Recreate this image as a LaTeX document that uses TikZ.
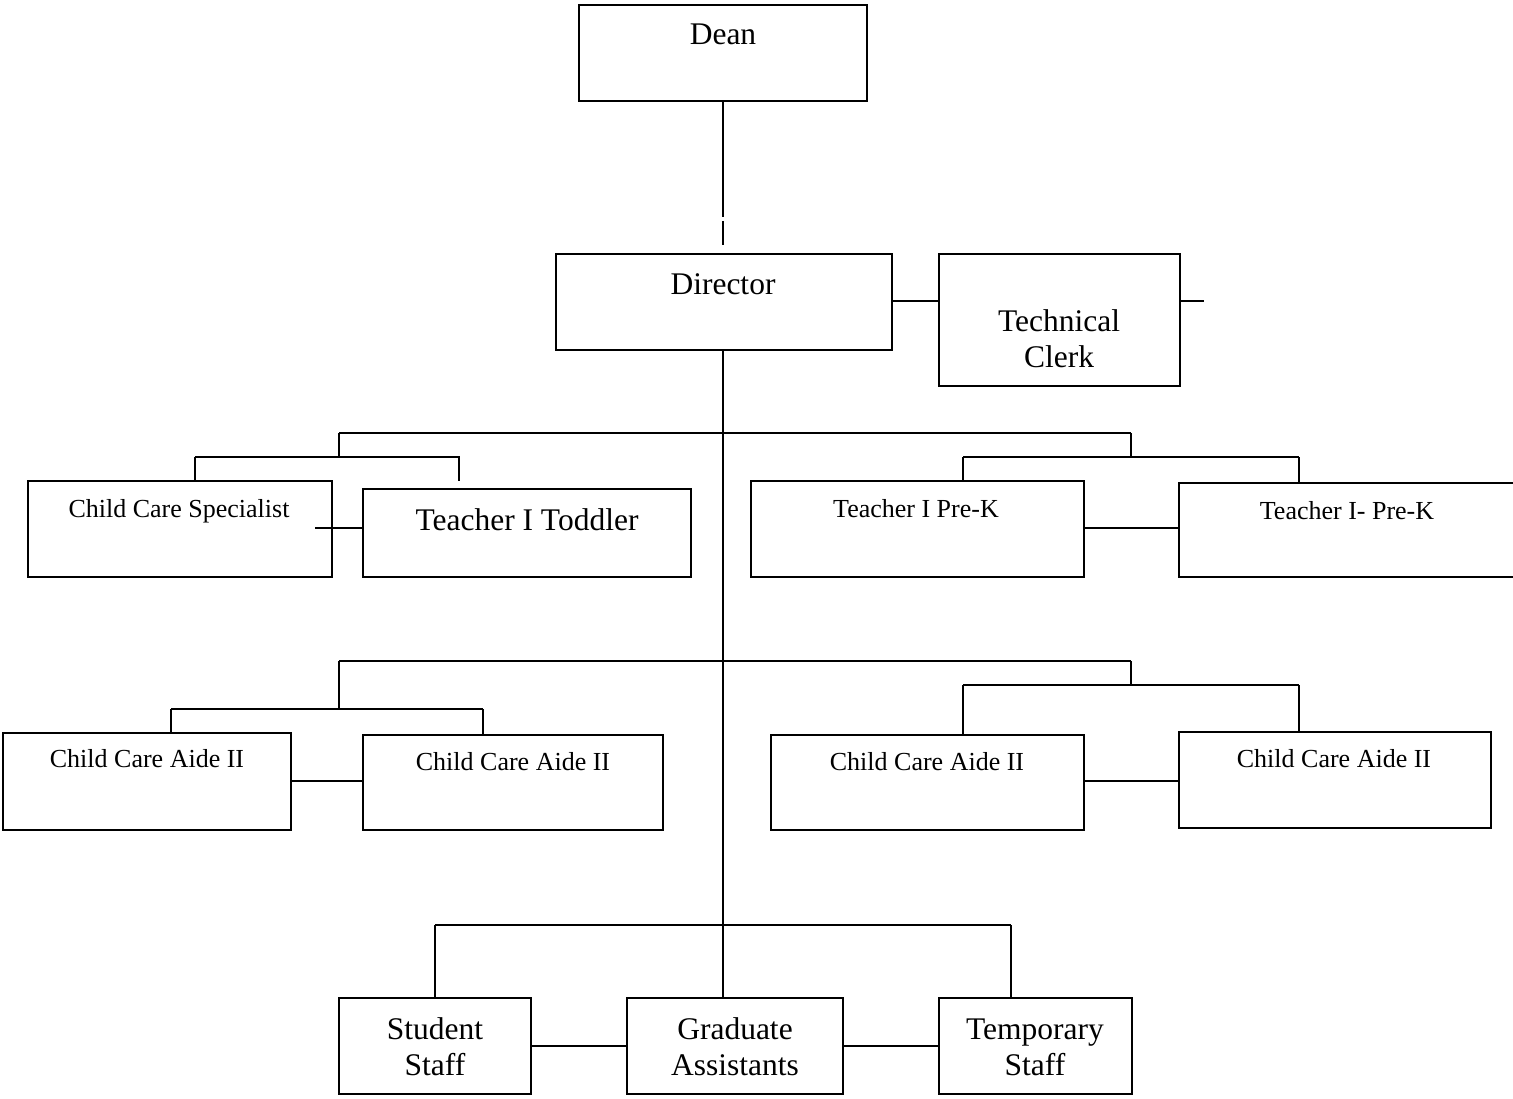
\documentclass[tikz,border=0pt]{standalone}
\usepackage{fontspec}
\setmainfont{Liberation Serif}
\begin{document}
\begin{tikzpicture}[x=1pt,y=-1pt,
  box/.style={draw,line width=1.8pt,inner sep=0,outer sep=0,anchor=north west},
  conn/.style={line width=1.8pt},
  big/.style={font=\fontsize{31.5}{36}\selectfont,anchor=base,inner sep=0},
  small/.style={font=\fontsize{26}{30}\selectfont,anchor=base,inner sep=0}]
\clip (0,0) rectangle (1513,1099);
\fill[white] (0,0) rectangle (1513,1099);

% boxes
\node[box,minimum width=288,minimum height=96] (dean) at (579,5) {};
\node[box,minimum width=336,minimum height=96] (director) at (556,254) {};
\node[box,minimum width=241,minimum height=132] (clerk) at (939,254) {};
\node[box,minimum width=304,minimum height=96] (ccs) at (28,481) {};
\node[box,minimum width=328,minimum height=88] (toddler) at (363,489) {};
\node[box,minimum width=333,minimum height=96] (prek1) at (751,481) {};
\node[box,minimum width=340,minimum height=94] (prek2) at (1179,483) {};
\node[box,minimum width=288,minimum height=97] (cca1) at (3,733) {};
\node[box,minimum width=300,minimum height=95] (cca2) at (363,735) {};
\node[box,minimum width=313,minimum height=95] (cca3) at (771,735) {};
\node[box,minimum width=312,minimum height=96] (cca4) at (1179,732) {};
\node[box,minimum width=192,minimum height=96] (student) at (339,998) {};
\node[box,minimum width=216,minimum height=96] (grad) at (627,998) {};
\node[box,minimum width=193,minimum height=96] (temp) at (939,998) {};

% texts
\node[big] (tdean) at (723,45) {Dean};
\node[big] (tdir) at (723,295) {Director};
\node[big] (tclerk1) at (1059,332) {Technical};
\node[big] (tclerk2) at (1059,367) {Clerk};
\node[small] (tccs) at (179,517) {Child Care Specialist};
\node[big] (ttod) at (527,530) {Teacher I Toddler};
\node[small] (tpk1) at (916,517) {Teacher I Pre-K};
\node[small] (tpk2) at (1347,519) {Teacher I- Pre-K};
\node[small] (tc1) at (147,767) {Child Care Aide II};
\node[small] (tc2) at (513,770) {Child Care Aide II};
\node[small] (tc3) at (927,770) {Child Care Aide II};
\node[small] (tc4) at (1334,767) {Child Care Aide II};
\node[big] (ts1) at (435,1039) {Student};
\node[big] (ts2) at (435,1075) {Staff};
\node[big] (tg1) at (735,1039) {Graduate};
\node[big] (tg2) at (735,1075) {Assistants};
\node[big] (tt1) at (1035,1039) {Temporary};
\node[big] (tt2) at (1035,1075) {Staff};

% coordinates
\coordinate (g1) at (723,217);
\coordinate (g2) at (723,221);
\coordinate (g3) at (723,245);
\coordinate (stub) at (1204,301);
\coordinate (spine) at (723,998);
\coordinate (b1L) at (339,433);
\coordinate (b1R) at (1131,433);
\coordinate (s1L) at (339,457);
\coordinate (s1R) at (1131,457);
\coordinate (s1a) at (195,457);
\coordinate (s1b) at (459,457);
\coordinate (s1bd) at (459,481);
\coordinate (s1c) at (963,457);
\coordinate (s1d) at (1299,457);
\coordinate (ccsin) at (315,528);
\coordinate (b2L) at (339,661);
\coordinate (b2R) at (1131,661);
\coordinate (s2L) at (339,709);
\coordinate (s2R) at (1131,685);
\coordinate (s2a) at (171,709);
\coordinate (s2b) at (483,709);
\coordinate (s2c) at (963,685);
\coordinate (s2d) at (1299,685);
\coordinate (b3L) at (435,925);
\coordinate (b3R) at (1011,925);

% connectors
\draw[conn] (dean.south -| g1) -- (g1);
\draw[conn] (g2) -- (g3);
\draw[conn] (director.east |- stub) -- (clerk.west |- stub);
\draw[conn] (clerk.east |- stub) -- (stub);
\draw[conn] (director.south -| spine) -- (spine);
% level 1
\draw[conn] (b1L) -- (b1R);
\draw[conn] (b1L) -- (s1L);
\draw[conn] (s1a) -- (s1b) -- (s1bd);
\draw[conn] (s1a) -- (s1a |- ccs.north);
\draw[conn] (b1R) -- (s1R);
\draw[conn] (s1c) -- (s1d);
\draw[conn] (s1c) -- (s1c |- prek1.north);
\draw[conn] (s1d) -- (s1d |- prek2.north);
\draw[conn] (ccsin) -- (ccsin -| toddler.west);
\draw[conn] (prek1.east |- ccsin) -- (prek2.west |- ccsin);
% level 2
\draw[conn] (b2L) -- (b2R);
\draw[conn] (b2L) -- (s2L);
\draw[conn] (s2a) -- (s2b);
\draw[conn] (s2a) -- (s2a |- cca1.north);
\draw[conn] (s2b) -- (s2b |- cca2.north);
\draw[conn] (b2R) -- (s2R);
\draw[conn] (s2c) -- (s2d);
\draw[conn] (s2c) -- (s2c |- cca3.north);
\draw[conn] (s2d) -- (s2d |- cca4.north);
\draw[conn] (cca1.east |- 0,781) -- (cca2.west |- 0,781);
\draw[conn] (cca3.east |- 0,781) -- (cca4.west |- 0,781);
% level 3
\draw[conn] (b3L) -- (b3R);
\draw[conn] (b3L) -- (b3L |- student.north);
\draw[conn] (b3R) -- (b3R |- temp.north);
\draw[conn] (student.east |- 0,1046) -- (grad.west |- 0,1046);
\draw[conn] (grad.east |- 0,1046) -- (temp.west |- 0,1046);
\end{tikzpicture}
\end{document}
